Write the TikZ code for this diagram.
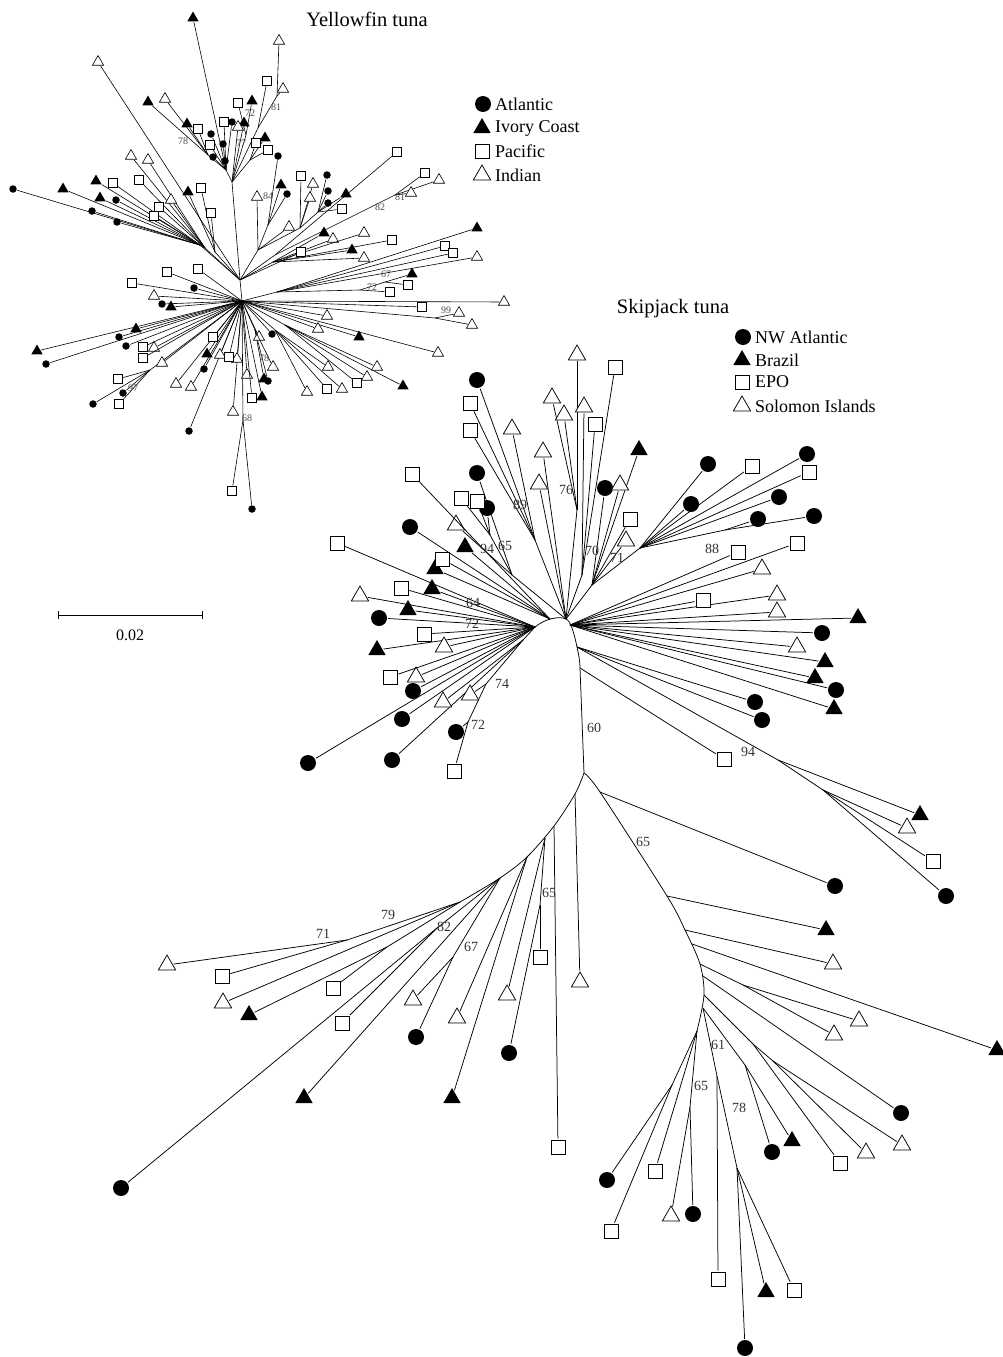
\documentclass[tikz,border=0pt]{standalone}
\usepackage{fontspec}
\setmainfont{Liberation Serif}
\usetikzlibrary{shapes.geometric}
\tikzset{
 br/.style={line width=0.75pt,shorten >=1pt},
 yb/.style={line width=0.6pt,shorten >=0.5pt},
 kc/.style={circle,fill=black,inner sep=0pt,minimum size=16pt},
 kt/.style={regular polygon,regular polygon sides=3,fill=black,inner sep=0pt,minimum size=20pt},
 ko/.style={regular polygon,regular polygon sides=3,draw,fill=white,line width=0.75pt,inner sep=0pt,minimum size=20pt},
 ks/.style={rectangle,draw,fill=white,line width=0.75pt,inner sep=0pt,minimum size=14pt},
 yc/.style={circle,fill=black,inner sep=0pt,minimum size=7.5pt},
 yt/.style={regular polygon,regular polygon sides=3,fill=black,inner sep=0pt,minimum size=13pt},
 yo/.style={regular polygon,regular polygon sides=3,draw,fill=white,line width=0.6pt,inner sep=0pt,minimum size=13pt},
 ys/.style={rectangle,draw,fill=white,line width=0.6pt,inner sep=0pt,minimum size=9pt},
 bs/.style={font=\fontsize{14}{14}\selectfont,text=black!80,inner sep=0pt},
 ybs/.style={font=\fontsize{10}{10}\selectfont,text=black!70,inner sep=0pt},
 lg/.style={font=\fontsize{18}{18}\selectfont,anchor=west,inner sep=0pt},
 ttl/.style={font=\fontsize{20.5}{20.5}\selectfont,inner sep=0pt}
}
\newcommand\kleaves[3]{\foreach \x/\y/\f [count=\i] in {#3} {\node[#1] (#2\i) at (\x,\y) {}; \draw[br] (\f) -- (#2\i);}}
\newcommand\yleaves[3]{\foreach \x/\y/\f [count=\i] in {#3} {\node[#1] (#2\i) at (\x,\y) {}; \draw[yb] (\f) -- (#2\i);}}
\begin{document}
\begin{tikzpicture}[x=1pt,y=-1pt]
\useasboundingbox (0,0) rectangle (1002,1357);
%================ YELLOWFIN =================
\coordinate (YH1) at (240,280); \coordinate (YH2) at (242,301);
\coordinate (YT) at (232,182); \coordinate (YTL) at (226,170);
\coordinate (Y78) at (208,155); \coordinate (Y72) at (246,135);
\coordinate (Y81) at (258,128); \coordinate (Y81b) at (277,96);
\coordinate (Y77) at (250,160);
\coordinate (YRu) at (258,250); \coordinate (YR84) at (268,225);
\coordinate (YRa) at (300,228); \coordinate (YRb) at (318,212);
\coordinate (YR82) at (275,255); \coordinate (Y81r) at (395,195);
\coordinate (Yd) at (273,262); \coordinate (Ye) at (277,292);
\coordinate (Y72b) at (360,290); \coordinate (Y67) at (385,282);
\coordinate (Y99) at (435,318);
\coordinate (Yf) at (275,330); \coordinate (Yg) at (285,325);
\coordinate (Y78b) at (255,330); \coordinate (Y68) at (243,420);
\coordinate (Y97) at (150,370);
\coordinate (YL1) at (200,245); \coordinate (YL2) at (205,248); \coordinate (YL3) at (215,252);
\draw[yb] (YH1) -- (YH2); \draw[yb] (YT) -- (YH1); \draw[yb] (YTL) -- (YT);
\draw[yb] (Y78) -- (YTL); \draw[yb] (Y72) -- (YT); \draw[yb] (Y81) -- (YT);
\draw[yb] (Y81b) -- (Y81); \draw[yb] (Y77) -- (YT);
\draw[yb] (YRu) -- (YH1); \draw[yb] (YR84) -- (YRu); \draw[yb] (YRa) -- (YRu);
\draw[yb] (YRb) -- (YRa); \draw[yb] (YR82) -- (YH1); \draw[yb] (Y81r) -- (YR82);
\draw[yb] (Yd) -- (YH1); \draw[yb] (Ye) -- (YH2); \draw[yb] (Y72b) -- (Ye);
\draw[yb] (Y67) -- (Y72b); \draw[yb] (Y99) -- (YH2); \draw[yb] (Yf) -- (YH2);
\draw[yb] (Yg) -- (YH2); \draw[yb] (Y78b) -- (YH2); \draw[yb] (Y68) -- (YH2);
\draw[yb] (Y97) -- (YH2); \draw[yb] (YL1) -- (YH1); \draw[yb] (YL2) -- (YH1); \draw[yb] (YL3) -- (YH1);
% circles
\yleaves{yc}{yc}{211/134/YTL,223/144/YTL,213/157/YTL,225/161/YTL,232/122/YTL,278/156/YR84,287/194/YR84,327/175/YRb,328/191/YRb,328/203/YRb,272/334/YH2,268/381/Y78b,252/509/Y68,204/369/YH2,189/431/YH2,194/288/YH2,162/304/YH2,46/364/YH2,119/337/YH2,126/346/YH2,123/393/Y97,93/404/Y97,13/189/YL1,116/200/YL1,92/211/YL1,117/222/YL1}
% filled triangles
\yleaves{yt}{yt}{193/18/YTL,148/102/Y78,187/124/Y78,244/123/YT,252/101/Y72,265/138/Y77,281/185/YR84,346/194/YRb,324/233/Yd,352/250/Yd,477/228/Ye,412/274/Y67,359/337/YH2,403/386/Yg,264/379/Y78b,262/397/YH2,207/354/YH2,171/307/YH2,37/351/YH2,136/329/YH2,63/189/YL1,96/181/YL1,100/198/YL1,188/192/YL3}
% open triangles
\yleaves{yo}{yo}{165/99/Y78,238/127/YT,279/41/Y81b,283/89/Y81b,257/197/YRu,313/184/YRa,310/198/YRa,289/227/YRu,439/180/Y81r,411/193/Y81r,333/239/Yd,364/233/Yd,364/258/Yd,477/257/Ye,504/302/YH2,459/313/Y99,472/325/Y99,327/316/YH2,318/329/YH2,438/353/YH2,307/392/Yf,342/389/Yf,328/367/Yf,367/377/Yg,377/367/Yg,259/337/YH2,273/367/Y78b,247/375/YH2,233/412/YH2,220/355/YH2,237/359/YH2,176/384/YH2,191/387/YH2,154/296/YH2,154/348/YH2,162/363/YH2,131/156/YL2,148/160/YL2,171/200/YL2,98/62/YH1}
% squares
\yleaves{ys}{ys}{224/122/YTL,210/145/YTL,198/129/Y78,238/103/Y72,267/81/Y81,256/143/Y77,268/150/Y77,301/176/YRa,342/209/YRb,397/152/YR82,425/173/Y81r,301/252/YH1,392/240/Yd,445/246/Ye,453/253/Ye,408/285/Y67,390/292/Y72b,422/307/YH2,327/389/Yf,357/383/Yg,252/398/YH2,232/491/Y68,213/337/YH2,229/357/YH2,167/272/YH2,198/269/YH2,132/283/YH2,143/347/YH2,143/358/YH2,118/379/Y97,119/404/Y97,113/183/YL1,139/180/YL2,159/207/YL2,154/216/YL2,201/188/YL3,211/213/YL3}
% yellowfin bootstrap labels
\foreach \x/\y/\t [count=\i] in {183/141/78,250/113/72,241/143/77,276/107/81,268/196/84,380/207/82,400/197/81,386/274/67,372/287/72,446/310/99,264/358/78,247/418/68,133/388/97}
 {\node[ybs] (yl\i) at (\x,\y) {\t};}
% title and legend
\node[ttl] (ytitle) at (367,19) {Yellowfin tuna};
\node[kc] (lg1) at (483,104) {}; \node[lg] (lg1t) at (495,104) {Atlantic};
\node[kt] (lg2) at (482,128) {}; \node[lg] (lg2t) at (495,128) {Ivory Coast};
\node[ks] (lg3) at (482,151) {}; \node[lg] (lg3t) at (495,151) {Pacific};
\node[ko] (lg4) at (482,175) {}; \node[lg] (lg4t) at (495,175) {Indian};
% scale bar
\coordinate (sb1) at (58,615); \coordinate (sb2) at (202,615);
\draw[line width=0.8pt] (sb1) -- (sb2);
\draw[line width=0.8pt] ([yshift=4pt]sb1) -- ([yshift=-4pt]sb1);
\draw[line width=0.8pt] ([yshift=4pt]sb2) -- ([yshift=-4pt]sb2);
\node[font=\fontsize{16}{16}\selectfont,inner sep=0pt] (sbt) at (130,635) {0.02};
%================ SKIPJACK =================
\coordinate (T) at (566,619); \coordinate (A) at (535,627); \coordinate (UL) at (550,619);
\coordinate (R) at (570,625); \coordinate (R2) at (577,647); \coordinate (R3) at (580,668);
\coordinate (N60) at (584,773);
\coordinate (S89) at (535,540); \coordinate (S76) at (577,510); \coordinate (S70) at (582,575);
\coordinate (S71) at (592,585); \coordinate (Sq) at (640,548); \coordinate (Sq2) at (725,530);
\coordinate (S94) at (490,535); \coordinate (S65) at (512,575);
\coordinate (S74) at (523,640); \coordinate (S74b) at (486,684); \coordinate (S72) at (468,722);
\coordinate (S94r) at (778,760); \coordinate (S94r2) at (823,790);
\draw[br,shorten >=0pt] (A) .. controls (546,618) and (560,616) .. (T) .. controls (570,620) and (574,632) .. (R2) .. controls (579,656) and (580,662) .. (R3) -- (N60);
\draw[br,shorten >=0pt] (S89) -- (T); \draw[br,shorten >=0pt] (S76) -- (T); \draw[br,shorten >=0pt] (S70) -- (T);
\draw[br,shorten >=0pt] (S71) -- (T); \draw[br,shorten >=0pt] (Sq) -- (S71); \draw[br,shorten >=0pt] (Sq2) -- (Sq);
\draw[br,shorten >=0pt] (S94) -- (S65) -- (T);
\draw[br,shorten >=0pt] (S74) -- (A); \draw[br,shorten >=0pt] (S74b) -- (S74); \draw[br,shorten >=0pt] (S72) -- (S74b);
\draw[br,shorten >=0pt] (S94r) -- (R2); \draw[br,shorten >=0pt] (S94r2) -- (S94r);
% lower left
\coordinate (Lb1) at (575,794); \coordinate (Lb2) at (554,826); \coordinate (Lb3) at (545,838);
\coordinate (Lb4) at (527,857); \coordinate (Lb5) at (500,878); \coordinate (L79) at (460,902);
\coordinate (L65) at (540,905); \coordinate (L67) at (453,957); \coordinate (L82) at (437,928);
\coordinate (L71) at (347,940); \coordinate (Lx) at (387,947);
\draw[br,shorten >=0pt] plot[smooth] coordinates {(584,773) (575,794) (554,826) (527,857) (500,878) (460,902)};
\draw[br,shorten >=0pt] (L65) -- (Lb3); \draw[br,shorten >=0pt] (L67) -- (Lb5); \draw[br,shorten >=0pt] (L82) -- (Lb5);
\draw[br,shorten >=0pt] (L71) -- (L79); \draw[br,shorten >=0pt] (Lx) -- (L79);
% lower right
\coordinate (Rb1) at (600,792); \coordinate (Rb2) at (667,896); \coordinate (Rb3) at (685,930);
\coordinate (Rb4) at (692,944); \coordinate (Rb5) at (700,964); \coordinate (Rb6) at (703,976);
\coordinate (Rb7) at (704,995); \coordinate (Rb8) at (703,1008); \coordinate (Rb9) at (697,1031);
\coordinate (Rs1) at (743,985); \coordinate (Rs2) at (753,1044); \coordinate (Rs3) at (773,1061);
\coordinate (R61) at (745,1065); \coordinate (R78a) at (717,1076); \coordinate (R78) at (737,1168);
\coordinate (Sb) at (672,1085); \coordinate (S65b) at (690,1107);
\draw[br,shorten >=0pt] plot[smooth] coordinates {(584,773) (600,792) (667,896) (685,930) (700,964) (704,995) (697,1031)};
\draw[br,shorten >=0pt] (Rs1) -- (Rb5); \draw[br,shorten >=0pt] (Rs3) -- (Rs2) -- (Rb7);
\draw[br,shorten >=0pt] (R61) -- (Rb8); \draw[br,shorten >=0pt] (R78) -- (R78a) -- (Rb8);
\draw[br,shorten >=0pt] (Sb) -- (Rb9); \draw[br,shorten >=0pt] (S65b) -- (Rb9);
% circles
\kleaves{kc}{kc}{477/380/S89,477/473/S65,487/508/S94,410/527/UL,379/618/A,413/691/A,402/719/A,456/732/S72,392/760/S74,308/763/A,605/488/S71,708/464/Sq,691/504/Sq,807/454/Sq,779/497/Sq,758/519/Sq2,814/516/Sq2,822/633/R,836/690/R,755/702/R2,762/720/R2,946/896/S94r2,835/886/Rb1,901/1113/Rb6,772/1152/R61,745/1348/R78,607/1180/Sb,693/1214/S65b,509/1053/L65,416/1037/L67,121/1188/L82}
% filled triangles
\kleaves{kt}{kt}{639/450/S71,465/547/UL,435/569/UL,432/589/A,408/610/A,377/650/A,858/618/R,825/662/R,815/678/R,834/709/R,920/815/S94r,826/930/Rb2,997/1050/Rb4,792/1141/R61,766/1292/R78,452/1098/Lb4,304/1098/Lb5,249/1015/Lx}
% open triangles
\kleaves{ko}{ko}{512/429/S89,577/355/S76,552/398/S76,564/415/S76,584/407/S70,543/452/T,539/484/T,620/485/S71,626/541/S71,456/525/S65,360/596/A,444/647/A,416/677/A,443/702/S74,470/695/S74b,762/569/R,777/595/R,777/612/R,797/647/R,907/828/S94r2,833/964/Rb3,859/1021/Rs1,834/1035/Rs1,866/1153/Rs3,902/1145/Rs3,671/1216/S65b,580/982/Lb1,507/995/Lb3,457/1018/Lb4,413/1000/L67,223/1003/L79,167/965/L71}
% squares
\kleaves{ks}{ks}{470/403/S89,470/430/S89,412/474/UL,461/498/S94,477/501/S94,337/543/A,442/559/UL,401/588/A,424/634/A,390/677/A,454/771/S72,615/367/S70,595/424/S70,630/519/S71,752/466/Sq,809/472/Sq,738/552/R,797/543/R,703/600/R,724/759/R3,933/861/S94r2,840/1163/Rs2,718/1279/R78a,794/1290/R78,655/1171/Rb9,611/1231/Sb,558/1147/Lb2,540/957/L65,342/1023/L82,333/988/Lx,222/976/L71}
% skipjack bootstrap labels
\foreach \x/\y/\t [count=\i] in {520/505/89,566/490/76,505/546/65,487/549/94,592/551/70,617/558/71,712/549/88,473/603/64,472/624/72,502/684/74,478/725/72,594/728/60,748/752/94,643/842/65,549/893/65,388/915/79,323/934/71,444/927/82,471/947/67,718/1045/61,701/1086/65,739/1108/78}
 {\node[bs] (kl\i) at (\x,\y) {\t};}
% title and legend
\node[ttl] (ktitle) at (673,309) {Skipjack tuna};
\node[kc] (kg1) at (743,337) {}; \node[lg] (kg1t) at (755,337) {NW Atlantic};
\node[kt] (kg2) at (742,360) {}; \node[lg] (kg2t) at (755,360) {Brazil};
\node[ks] (kg3) at (742,382) {}; \node[lg] (kg3t) at (755,382) {EPO};
\node[ko] (kg4) at (742,406) {}; \node[lg] (kg4t) at (755,406) {Solomon Islands};
\end{tikzpicture}
\end{document}
